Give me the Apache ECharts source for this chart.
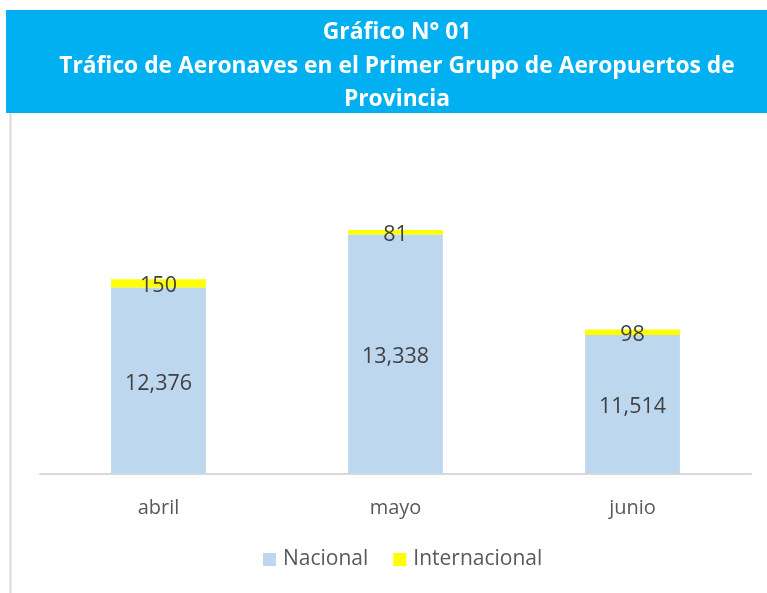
<!DOCTYPE html>
<html>
<head>
<meta charset="utf-8">
<script src="https://cdn.jsdelivr.net/npm/echarts@6/dist/echarts.min.js"></script>
<style>
  html, body { margin: 0; padding: 0; background: #fff; }
  #chart { width: 767px; height: 593px; }
</style>
</head>
<body>
<div id="chart"></div>
<script>
// datos
const meses = ['abril', 'mayo', 'junio']
const nacional = [12376, 13338, 11514]
const internacional = [150, 81, 98]

const chart = echarts.init(document.getElementById('chart'))

const fmt = (p) => p.value.toLocaleString('en-US')

chart.setOption({
  animation: false,
  textStyle: { fontFamily: 'Open Sans' },
  graphic: [
    {
      type: 'rect',
      shape: { x: 6, y: 10, width: 761, height: 103 },
      style: { fill: '#00b0f0' },
      silent: true,
      z: 0,
    },
    {
      type: 'line',
      shape: { x1: 10.5, y1: 113, x2: 10.5, y2: 593 },
      style: { stroke: '#d9d9d9', lineWidth: 2 },
      silent: true,
    },
  ],
  title: {
    text: 'Gráfico N° 01\nTráfico de Aeronaves en el Primer Grupo de Aeropuertos de\nProvincia',
    left: 392,
    textAlign: 'center',
    top: 11,
    textStyle: {
      color: '#ffffff',
      fontSize: 22.8,
      fontWeight: 'bold',
      lineHeight: 33.5,
      fontFamily: 'Open Sans',
    },
    z: 10,
  },
  legend: {
    bottom: 18,
    left: 258,
    itemWidth: 13,
    itemHeight: 13,
    itemGap: 25,
    icon: 'rect',
    textStyle: { color: '#595959', fontSize: 21, fontFamily: 'Open Sans', padding: [0, 0, 0, 2] },
    data: ['Nacional', 'Internacional'],
  },
  grid: {
    left: 40,
    right: 16,
    top: 198,
    bottom: 119.5,
    containLabel: false,
  },
  xAxis: {
    type: 'category',
    data: meses,
    axisLine: { lineStyle: { color: '#d9d9d9', width: 2 } },
    axisTick: { show: false },
    axisLabel: { color: '#595959', fontSize: 20, margin: 25, fontFamily: 'Open Sans' },
  },
  yAxis: {
    type: 'value',
    min: 9000,
    max: 14000,
    show: false,
    splitLine: { show: false },
  },
  series: [
    {
      name: 'Nacional',
      type: 'bar',
      stack: 'total',
      data: nacional,
      barWidth: '40%',
      itemStyle: { color: '#bdd7ee' },
      label: {
        show: true,
        position: 'inside',
        offset: [0, 3],
        color: '#404040',
        fontSize: 21.5,
        fontFamily: 'Open Sans',
        formatter: fmt,
      },
    },
    {
      name: 'Internacional',
      type: 'bar',
      stack: 'total',
      data: internacional,
      itemStyle: { color: '#ffff00' },
      label: {
        show: true,
        position: 'inside',
        offset: [0, 3],
        color: '#404040',
        fontSize: 21.5,
        fontFamily: 'Open Sans',
        formatter: fmt,
      },
    },
  ],
})
</script>
</body>
</html>
